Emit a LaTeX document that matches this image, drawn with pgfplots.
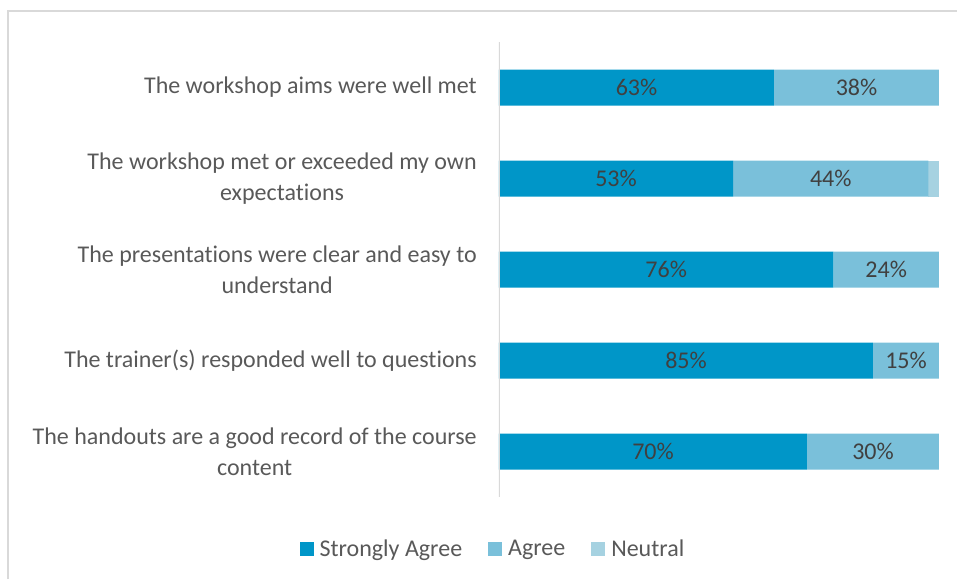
\documentclass[border=0pt]{standalone}
\usepackage{pgfplots}
\pgfplotsset{compat=1.18}
\usepackage{fontspec}
\setmainfont{Carlito}[Ligatures=NoCommon]
\definecolor{SAgree}{HTML}{0096C8}
\definecolor{Agree}{HTML}{7AC0DA}
\definecolor{Neutral}{HTML}{A6D2E1}
\definecolor{LabelGray}{HTML}{595959}
\definecolor{ValGray}{HTML}{404040}
\definecolor{FrameGray}{HTML}{D9D9D9}

\pgfplotstableread{
x     y  lab
31.25 0  63\%
81.25 0  38\%
26.6  1  53\%
75.4  1  44\%
38    2  76\%
88    2  24\%
42.5  3  85\%
92.5  3  15\%
35    4  70\%
85    4  30\%
}\vallabels

\pgfplotsset{
  frame/.style={
    at={(0pt,0pt)}, anchor=south west,
    scale only axis, width=330pt, height=341.25pt,
    xmin=0, xmax=100, ymin=-0.5, ymax=4.5,
    y dir=reverse,
  },
}

\begin{document}
\begin{tikzpicture}
\useasboundingbox (-374.25pt,-61.5pt) rectangle (343.5pt,372.75pt);
\draw[FrameGray, line width=1.5pt] (-368.25pt,-61.5pt) -- (-368.25pt,364.5pt) -- (343.5pt,364.5pt);
\begin{axis}[
  frame,
  xbar stacked, bar width=27pt,
  xtick=\empty,
  ytick={0,1,2,3,4},
  yticklabels={
    {The workshop aims were well met},
    {The workshop met or exceeded my own\\expectations},
    {The presentations were clear and easy to\\understand},
    {The trainer(s) responded well to questions},
    {The handouts are a good record of the course\\content}},
  yticklabel style={align=center, anchor=east, inner sep=0pt, xshift=-16.5pt,
    font=\fontsize{18}{23}\selectfont, text=LabelGray},
  major tick length=0pt,
  axis line style={draw=none},
  legend columns=3,
  legend style={draw=none, at={(-0.016,-0.114)}, anchor=center,
    font=\fontsize{18}{23}\selectfont, text=LabelGray,
    nodes={inner sep=0pt},
    /tikz/every odd column/.append style={column sep=4.5pt},
    /tikz/every even column/.append style={column sep=19.5pt}},
  legend image code/.code={%
    \fill[#1, /tikz/.cd, draw=none, bar width=10.5pt, bar shift=0pt] plot coordinates {(10.5pt,0pt)};},
]
\draw[FrameGray, line width=1pt] (axis cs:0,-0.5) -- (axis cs:0,4.5);
\addplot[fill=SAgree, draw=none] coordinates {(62.5,0) (53.2,1) (76,2) (85,3) (70,4)};
\addlegendentry{Strongly Agree}
\addplot[fill=Agree, draw=none] coordinates {(37.5,0) (44.4,1) (24,2) (15,3) (30,4)};
\addlegendentry{Agree}
\addplot[fill=Neutral, draw=none] coordinates {(0,0) (2.4,1) (0,2) (0,3) (0,4)};
\addlegendentry{Neutral}
\end{axis}
\begin{axis}[frame, hide axis]
\addplot[draw=none, mark=none, nodes near coords, point meta=explicit symbolic,
  every node near coord/.style={anchor=center, text=ValGray, font=\fontsize{18}{23}\selectfont}]
  table[x=x, y=y, meta=lab] {\vallabels};
\end{axis}
\end{tikzpicture}
\end{document}
